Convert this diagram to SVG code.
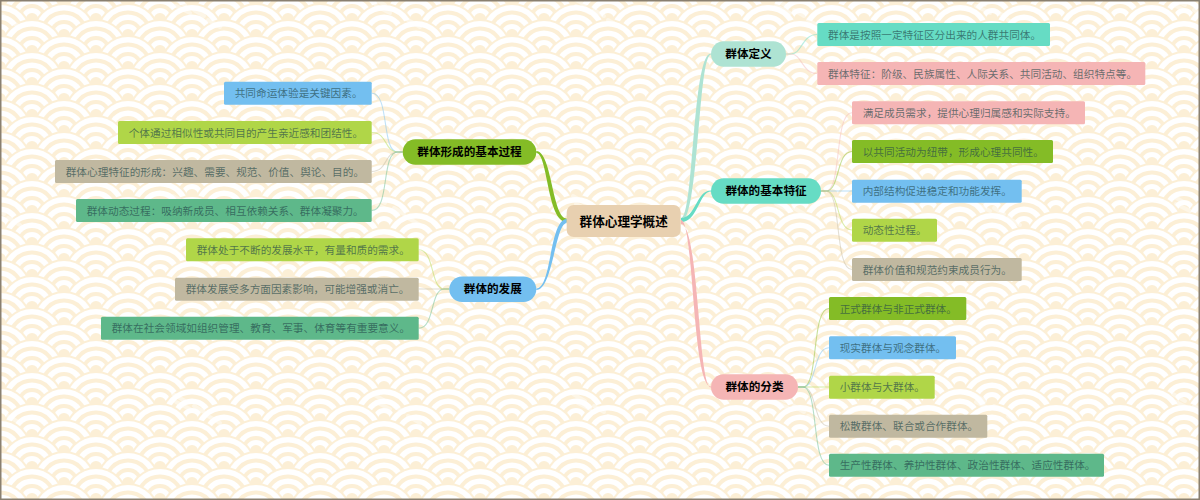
<svg xmlns="http://www.w3.org/2000/svg" width="1200" height="500" viewBox="0 0 1200 500">
<style>
text{font-family:"Noto Sans CJK SC","Noto Sans",sans-serif}
.leaf text{font-size:10.67px;fill:#24484a;fill-opacity:.68}
.topic text{font-size:11.6px;font-weight:700;fill:#000;text-anchor:middle}
.root text{font-size:12.6px;font-weight:700;fill:#000;text-anchor:middle}
.leafline{fill:none;stroke-width:1.1;stroke-opacity:.45}
.teal{fill:#66dcc4}.pink{fill:#f5b5b5}.green{fill:#84bc26}.blue{fill:#73bff0}.lime{fill:#b0d648}.tan{fill:#c0b8a0}.sea{fill:#5eb88a}
.sk-teal{stroke:#66dcc4}.sk-pink{stroke:#f5b5b5}.sk-green{stroke:#84bc26}.sk-blue{stroke:#73bff0}.sk-lime{stroke:#b0d648}.sk-tan{stroke:#c0b8a0}.sk-sea{stroke:#5eb88a}
</style>
<defs>
<g id="wave">
<circle r="32" fill="#fcefd6"/>
<circle r="30" fill="#fff"/>
<circle r="24.5" fill="#fcefd6"/>
<circle r="20.5" fill="#fff"/>
<circle r="15" fill="#fcefd6"/>
<circle r="11" fill="#fff"/>
<circle r="6" fill="#fcefd6"/>
</g>
<pattern id="sea" width="64" height="32" patternUnits="userSpaceOnUse" patternTransform="translate(0 3)">
<rect width="64" height="32" fill="#fcefd6"/>
<use href="#wave" x="32" y="-16"/>
<use href="#wave" x="0" y="0"/><use href="#wave" x="64" y="0"/>
<use href="#wave" x="32" y="16"/>
<use href="#wave" x="0" y="32"/><use href="#wave" x="64" y="32"/>
<use href="#wave" x="32" y="48"/>
</pattern>
<pattern id="mark" width="200" height="198" patternUnits="userSpaceOnUse" patternTransform="translate(-30 -6)">
<g fill="none" stroke="#fff" stroke-width="4" stroke-linecap="round" stroke-opacity=".42">
<path d="M3 4L15 11M6 12L20 19M24 16L34 22M38 26L50 33"/>
</g>
</pattern>
</defs>
<rect width="1200" height="500" fill="url(#sea)"/>
<rect width="1200" height="500" fill="url(#mark)"/>
<rect x=".75" y=".75" width="1198.5" height="498.5" fill="none" stroke="#8a8070" stroke-width="1.5"/>
<g id="connectors">
<path class="green" d="M566.7 218.5C552 218 552 151 536.3 151V153C548 153 547 222 566.7 222Z"/>
<path class="blue" d="M566.7 219C549 220 552 288.5 536.3 288.5V290C553 290 555 224 566.7 223Z"/>
<path d="M681 218C694 218 692 53.5 711 53.5V54.5C698 54.5 699 222 681 222Z" fill="#aee3d3"/>
<path class="teal" d="M681 218C696 218 696 190.5 711 190.5V191.5C699 191.5 698 222 681 222Z"/>
<path class="pink" d="M681 220C694 220 692 386.5 711 386.5V387.5C698 387.5 699 224 681 224Z"/>
<path class="leafline sk-teal" d="M786 54H791C802 54 802 34.5 817 34.5"/>
<path class="leafline sk-pink" d="M786 54H791C802 54 802 73.5 817 73.5"/>
<path class="leafline sk-pink" d="M821 191H826C842 191 834 112.8 852 112.8"/>
<path class="leafline sk-green" d="M821 191H826C840 191 836 151.5 852 151.5"/>
<path class="leafline sk-blue" d="M821 191H852"/>
<path class="leafline sk-lime" d="M821 191H826C840 191 836 230 852 230"/>
<path class="leafline sk-tan" d="M821 191H826C842 191 834 269.5 852 269.5"/>
<path class="leafline sk-green" d="M798 387H803C819 387 811 308.5 829 308.5"/>
<path class="leafline sk-blue" d="M798 387H803C817 387 813 347.8 829 347.8"/>
<path class="leafline sk-lime" d="M798 387H829"/>
<path class="leafline sk-tan" d="M798 387H803C817 387 813 426.2 829 426.2"/>
<path class="leafline sk-sea" d="M798 387H803C819 387 811 465.2 829 465.2"/>
<path class="leafline sk-blue" d="M402.7 152H397.7C381 152 390 93.3 371.7 93.3"/>
<path class="leafline sk-lime" d="M402.7 152H397.7C384 152 388 132.5 371.7 132.5"/>
<path class="leafline sk-tan" d="M402.7 152H397.7C384 152 388 171.5 371.7 171.5"/>
<path class="leafline sk-sea" d="M402.7 152H397.7C381 152 390 210.5 371.7 210.5"/>
<path class="leafline sk-lime" d="M449.3 289H444.3C430 289 435 249.8 418.7 249.8"/>
<path class="leafline sk-tan" d="M449.3 289H418.7"/>
<path class="leafline sk-sea" d="M449.3 289H444.3C430 289 435 328.2 418.7 328.2"/>
</g>
<g id="root" class="root"><rect x="566.7" y="205" width="114" height="32" rx="7" fill="#e8d0b0"/><text x="623.7" y="225.5">群体心理学概述</text></g>
<g id="t1" class="topic"><rect x="402.7" y="139.3" width="133.6" height="25.4" rx="12.7" class="green"/><text x="469.5" y="156">群体形成的基本过程</text></g>
<g id="t2" class="topic"><rect x="449.3" y="276.5" width="87" height="25.4" rx="12.7" class="blue"/><text x="492.8" y="293.2">群体的发展</text></g>
<g id="t3" class="topic"><rect x="711" y="41.3" width="75" height="25.4" rx="12.7" fill="#aee3d3"/><text x="748.5" y="58">群体定义</text></g>
<g id="t4" class="topic"><rect x="711" y="178.3" width="110" height="25.4" rx="12.7" class="teal"/><text x="766" y="195">群体的基本特征</text></g>
<g id="t5" class="topic"><rect x="711" y="374.3" width="87" height="25.4" rx="12.7" class="pink"/><text x="754.5" y="391">群体的分类</text></g>
<g id="n1" class="leaf"><rect x="817.3" y="23" width="232.7" height="23" rx="1.5" class="teal"/><text x="828" y="38.5">群体是按照一定特征区分出来的人群共同体。</text></g>
<g id="n2" class="leaf"><rect x="817.3" y="62" width="328" height="23" rx="1.5" class="pink"/><text x="828" y="77.5">群体特征：阶级、民族属性、人际关系、共同活动、组织特点等。</text></g>
<g id="n3" class="leaf"><rect x="852" y="101.3" width="233" height="23" rx="1.5" class="pink"/><text x="862.7" y="116.8">满足成员需求，提供心理归属感和实际支持。</text></g>
<g id="n4" class="leaf"><rect x="852" y="140" width="201" height="23" rx="1.5" class="green"/><text x="862.7" y="155.5">以共同活动为纽带，形成心理共同性。</text></g>
<g id="n5" class="leaf"><rect x="852" y="179.7" width="169.7" height="23" rx="1.5" class="blue"/><text x="862.7" y="195.2">内部结构促进稳定和功能发挥。</text></g>
<g id="n6" class="leaf"><rect x="852" y="218.7" width="85" height="23" rx="1.5" class="lime"/><text x="862.7" y="234.2">动态性过程。</text></g>
<g id="n7" class="leaf"><rect x="852" y="258" width="169.7" height="23" rx="1.5" class="tan"/><text x="862.7" y="273.5">群体价值和规范约束成员行为。</text></g>
<g id="n8" class="leaf"><rect x="829" y="297" width="137.3" height="23" rx="1.5" class="green"/><text x="839.7" y="312.5">正式群体与非正式群体。</text></g>
<g id="n9" class="leaf"><rect x="829" y="336.3" width="127" height="23" rx="1.5" class="blue"/><text x="839.7" y="351.8">现实群体与观念群体。</text></g>
<g id="n10" class="leaf"><rect x="829" y="375.7" width="105.7" height="23" rx="1.5" class="lime"/><text x="839.7" y="391.2">小群体与大群体。</text></g>
<g id="n11" class="leaf"><rect x="829" y="414.7" width="158.3" height="23" rx="1.5" class="tan"/><text x="839.7" y="430.2">松散群体、联合或合作群体。</text></g>
<g id="n12" class="leaf"><rect x="829" y="453.7" width="275" height="23" rx="1.5" class="sea"/><text x="839.7" y="469.2">生产性群体、养护性群体、政治性群体、适应性群体。</text></g>
<g id="n13" class="leaf"><rect x="224" y="81.7" width="147.7" height="23" rx="1.5" class="blue"/><text x="234.7" y="97.2">共同命运体验是关键因素。</text></g>
<g id="n14" class="leaf"><rect x="118" y="121" width="253.7" height="23" rx="1.5" class="lime"/><text x="128.7" y="136.5">个体通过相似性或共同目的产生亲近感和团结性。</text></g>
<g id="n15" class="leaf"><rect x="55" y="160" width="316.7" height="23" rx="1.5" class="tan"/><text x="65.7" y="175.5">群体心理特征的形成：兴趣、需要、规范、价值、舆论、目的。</text></g>
<g id="n16" class="leaf"><rect x="76" y="199" width="295.7" height="23" rx="1.5" class="sea"/><text x="86.7" y="214.5">群体动态过程：吸纳新成员、相互依赖关系、群体凝聚力。</text></g>
<g id="n17" class="leaf"><rect x="186" y="238.3" width="232.7" height="23" rx="1.5" class="lime"/><text x="196.7" y="253.8">群体处于不断的发展水平，有量和质的需求。</text></g>
<g id="n18" class="leaf"><rect x="175" y="277.7" width="243.7" height="23" rx="1.5" class="tan"/><text x="185.7" y="293.2">群体发展受多方面因素影响，可能增强或消亡。</text></g>
<g id="n19" class="leaf"><rect x="101" y="316.7" width="317.7" height="23" rx="1.5" class="sea"/><text x="111.7" y="332.2">群体在社会领域如组织管理、教育、军事、体育等有重要意义。</text></g>
</svg>
